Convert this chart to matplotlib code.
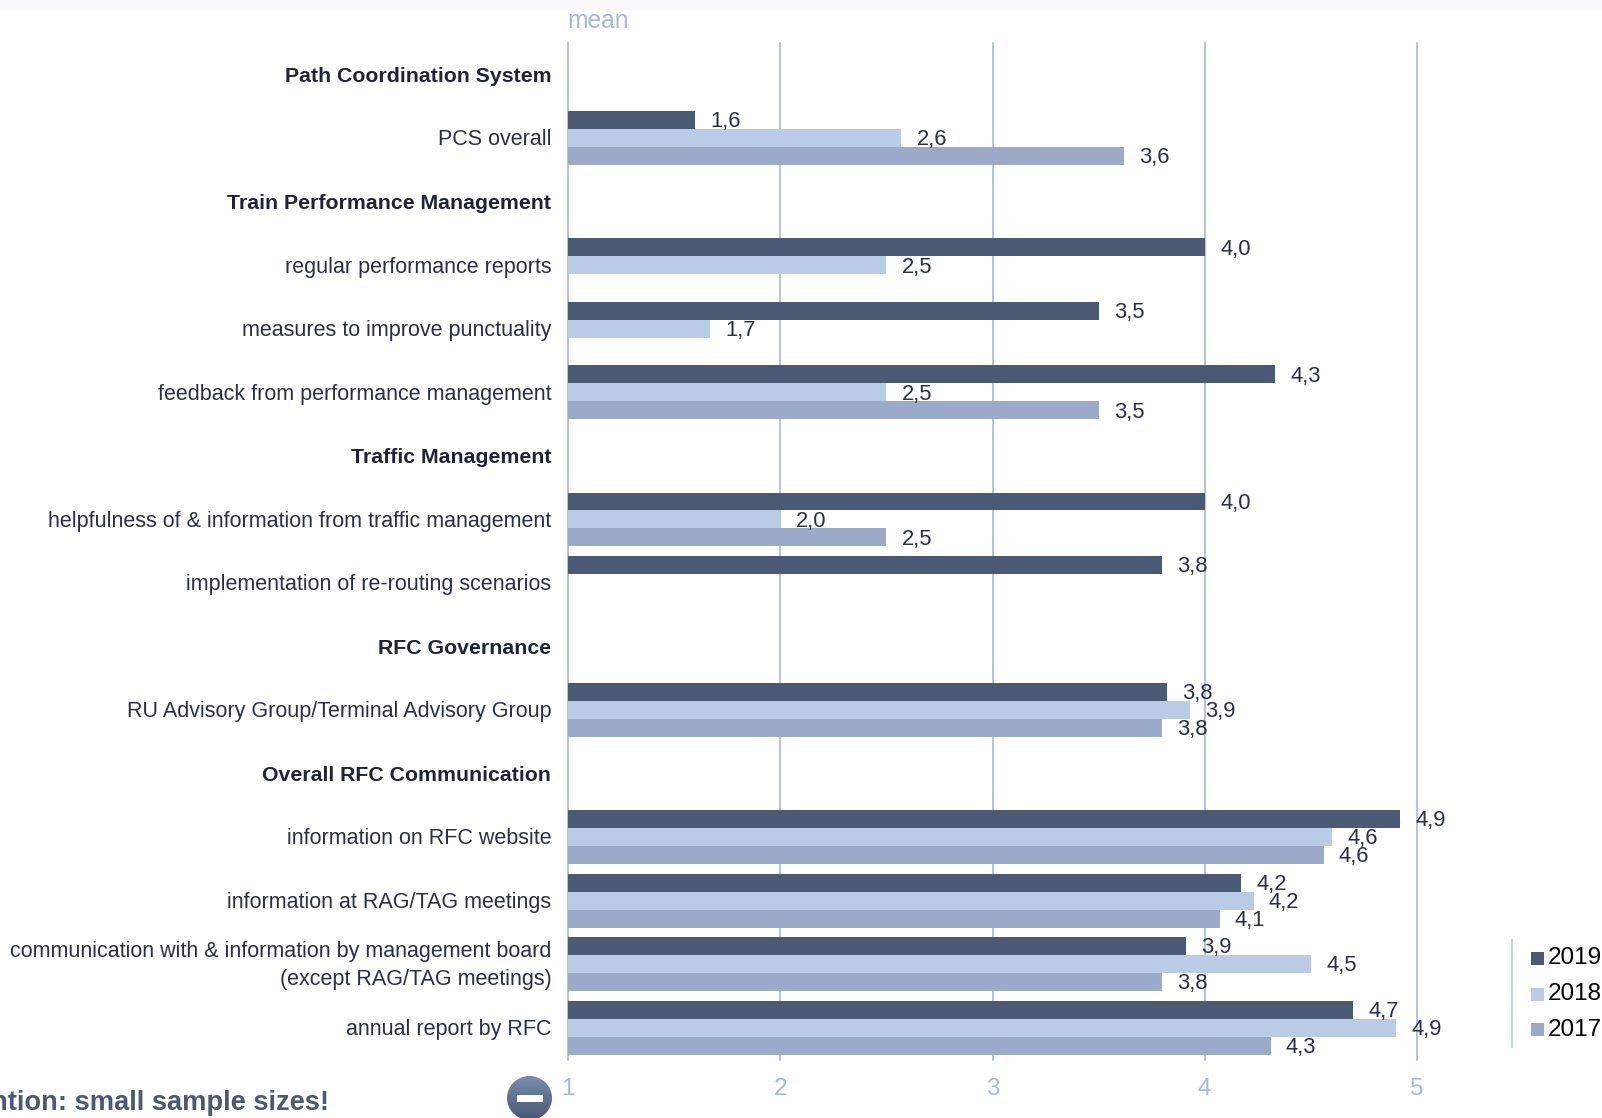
import numpy as np
import matplotlib
matplotlib.use('Agg')
import matplotlib.pyplot as plt
from matplotlib.patches import Ellipse, Rectangle

plt.rcParams['font.family'] = ['Liberation Sans', 'DejaVu Sans']

# Rows from top to bottom
rows = ['Path Coordination System', 'PCS overall',
        'Train Performance Management', 'regular performance reports',
        'measures to improve punctuality', 'feedback from performance management',
        'Traffic Management', 'helpfulness of & information from traffic management',
        'implementation of re-routing scenarios',
        'RFC Governance', 'RU Advisory Group/Terminal Advisory Group',
        'Overall RFC Communication', 'information on RFC website',
        'information at RAG/TAG meetings',
        'communication with & information by management board\n(except RAG/TAG meetings)',
        'annual report by RFC']
headers = ['Path Coordination System', 'Train Performance Management', 'Traffic Management',
           'RFC Governance', 'Overall RFC Communication']

years = ['2019', '2018', '2017']
v2019 = [None, 1.60, None, 4.00, 3.50, 4.33, None, 4.00, 3.80, None, 3.82, None, 4.92, 4.17, 3.91, 4.70]
v2018 = [None, 2.57, None, 2.50, 1.67, 2.50, None, 2.00, None, None, 3.93, None, 4.60, 4.23, 4.50, 4.90]
v2017 = [None, 3.62, None, None, None, 3.50, None, 2.50, None, None, 3.80, None, 4.56, 4.07, 3.80, 4.31]
colors = ['#4a5a75', '#bacce5', '#9caac9']

xticks = [1, 2, 3, 4, 5]

W, H = 1602, 1118
TEXT = '#2a2f45'
BOLD = '#1f2238'
GRID = '#a9b8d4'
TICK = '#a9b8d8'

fig = plt.figure(figsize=(W / 100, H / 100), dpi=100, facecolor='white')

# overlay in pixel coordinates for the bits around the chart
bg = fig.add_axes([0, 0, 1, 1])
bg.set_xlim(0, W)
bg.set_ylim(H, 0)
bg.axis('off')
bg.add_patch(Rectangle((0, 0), W, 10, color='#f9f9fc', lw=0))

left, right, top, bottom = 568, 1417, 43, 1059.5
ax = fig.add_axes([left / W, 1 - bottom / H, (right - left) / W, (bottom - top) / H])
ax.patch.set_alpha(0)
ax.set_xlim(1, 5)
ax.set_ylim(len(rows) - 0.5, -0.5)
for s in ax.spines.values():
    s.set_visible(False)

ax.set_xticks(xticks)
ax.set_xticklabels([str(t) for t in xticks], fontsize=17.5, color=TICK)
ax.tick_params(axis='x', length=0, pad=13.5)
ax.set_yticks([])
ax.set_axisbelow(True)
ax.grid(axis='x', color=GRID, lw=1.2)
for g in ax.get_xgridlines():
    g.set_clip_on(False)

h = 0.283
y = np.arange(len(rows))
for i, vals in enumerate([v2019, v2018, v2017]):
    vals = np.array([np.nan if v is None else v for v in vals])
    ax.barh(y + (i - 1) * h, vals - 1, left=1, height=h, color=colors[i], lw=0)
    for yy, v in zip(y, vals):
        if not np.isnan(v):
            ax.annotate(f'{v:.1f}'.replace('.', ','), (v, yy + (i - 1) * h), xytext=(11, -1.2),
                        textcoords='offset points', va='center', ha='left',
                        fontsize=15.8, color=TEXT, annotation_clip=False)

for yy, name in zip(y, rows):
    bold = name in headers
    ax.annotate(name, (1, yy), xytext=(-12, -1.2), textcoords='offset points', ha='right',
                va='center', fontsize=15.3 if bold else 15.5, color=BOLD if bold else TEXT,
                fontweight='bold' if bold else 'normal', annotation_clip=False,
                linespacing=1.45)

# axis caption
bg.text(567.5, 21.5, 'mean', fontsize=17.7, color=TICK, va='center', ha='left')

# legend
bg.plot([1511.7, 1511.7], [940, 1047], color='#c3d0e6', lw=1.4)
for name, c, yc in zip(years, colors, [958, 994, 1029.5]):
    bg.add_patch(Rectangle((1531, yc - 6.5), 13, 13, color=c, lw=0))
    bg.text(1548, yc, name, fontsize=17.5, color='black', va='center', ha='left')

# note and collapse button at the bottom
bg.text(329.5, 1103, 'Attention: small sample sizes!', fontsize=19.6, fontweight='bold',
        color='#4a5a75', va='center', ha='right')
grad = np.linspace(0, 1, 64).reshape(-1, 1)
top_c = np.array([0x7a, 0x8d, 0xae]) / 255
bot_c = np.array([0x46, 0x56, 0x72]) / 255
img = top_c[None, None, :] * (1 - grad[..., None]) + bot_c[None, None, :] * grad[..., None]
im = bg.imshow(img, extent=(507, 552, 1120, 1076), aspect='auto', zorder=3)
clip = Ellipse((529.5, 1098), 45, 44, transform=bg.transData, visible=False)
bg.add_patch(clip)
im.set_clip_path(clip)
bg.add_patch(Rectangle((517, 1095), 26, 7, color='white', lw=0, zorder=4))
bg.set_xlim(0, W)
bg.set_ylim(H, 0)

fig.savefig('out.png', dpi=100)
